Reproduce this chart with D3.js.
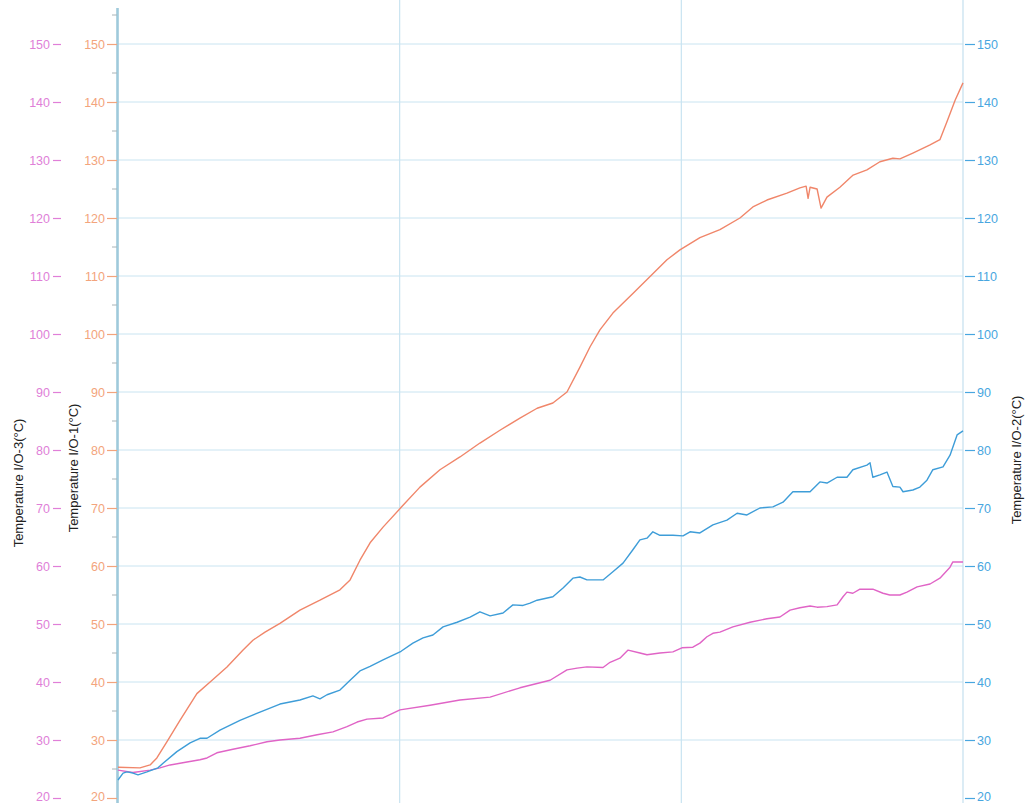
<!DOCTYPE html>
<html>
<head>
<meta charset="utf-8">
<script src="https://cdn.jsdelivr.net/npm/d3@7"></script>
<style>
  html, body { margin: 0; padding: 0; background: #ffffff; }
  svg { display: block; }
  text { font-family: "Liberation Sans", Arial, sans-serif; }
</style>
</head>
<body>
<svg id="chart" width="1026" height="803"></svg>
<script>
// Tick values shared by the three temperature axes
const tickValues = [20, 30, 40, 50, 60, 70, 80, 90, 100, 110, 120, 130, 140, 150];
const minorTickValues = [25, 35, 45, 55, 65, 75, 85, 95, 105, 115, 125, 135, 145, 155];

// Axis titles
const titleIO1 = "Temperature I/O-1(\u00B0C)";
const titleIO2 = "Temperature I/O-2(\u00B0C)";
const titleIO3 = "Temperature I/O-3(\u00B0C)";

// I/O-1 readings (time, °C)
const io1Time = [0, 7.8, 11.4, 13.8, 17.4, 22.0, 28.0, 32.7, 38.7, 44.4, 47.9, 52.2, 57.5, 64.6, 71.7, 78.8,
  82.4, 85.9, 89.5, 94.1, 100.7, 107.2, 114.3, 121.4, 128.5, 135.6, 142.7, 148.8, 154.4, 159.4, 164.0,
  167.6, 171.1, 175.7, 182.8, 188.9, 194.9, 199.5, 206.6, 213.7, 220.8, 225.4, 230.4, 237.5, 242.1,
  244.3, 245.0, 245.7, 248.2, 249.6, 251.7, 256.3, 261.0, 265.9, 270.5, 275.1, 277.6, 282.2, 288.3,
  291.8, 294.3, 297.2, 300];
const io1Temp = [25.3, 25.2, 25.7, 26.9, 29.7, 33.4, 38.0, 40.0, 42.6, 45.5, 47.2, 48.6, 50.1, 52.4, 54.1, 55.9,
  57.6, 61.0, 64.0, 66.7, 70.2, 73.6, 76.6, 78.8, 81.2, 83.4, 85.5, 87.2, 88.1, 90.0, 94.3,
  97.8, 100.7, 103.6, 107.0, 109.9, 112.8, 114.5, 116.6, 118.0, 120.0, 121.9, 123.1, 124.3, 125.2,
  125.5, 123.4, 125.3, 125.0, 121.7, 123.6, 125.3, 127.4, 128.3, 129.7, 130.3, 130.2, 131.2, 132.6,
  133.5, 136.6, 140.3, 143.3];

// I/O-2 readings (time, °C)
const io2Time = [0, 1.8, 3.2, 5.3, 7.1, 10.3, 14.2, 16.0, 20.9, 25.6, 29.1, 31.6, 36.2, 43.3, 50.4, 57.5,
  64.6, 69.2, 71.7, 74.2, 78.8, 82.4, 85.9, 89.5, 94.1, 100.5, 104.7, 108.3, 111.8, 115.4, 120.4,
  125.0, 128.5, 132.1, 136.7, 140.2, 143.8, 146.3, 148.8, 154.4, 158.0, 161.5, 164.0, 166.5, 172.2,
  175.7, 179.3, 182.8, 185.3, 187.8, 189.9, 192.4, 197.0, 200.6, 203.1, 206.6, 211.2, 216.2, 219.8,
  223.3, 227.9, 232.5, 236.1, 239.6, 245.7, 249.2, 251.7, 255.3, 258.8, 260.9, 265.9, 267.0, 268.0,
  270.5, 273.0, 275.1, 277.6, 278.7, 282.2, 284.7, 287.2, 289.3, 292.9, 295.4, 297.9, 300];
const io2Temp = [23.1, 24.3, 24.5, 24.3, 24.0, 24.5, 25.2, 26.0, 28.0, 29.5, 30.3, 30.3, 31.7, 33.4, 34.8, 36.2,
  36.9, 37.6, 37.1, 37.8, 38.6, 40.3, 41.9, 42.7, 43.8, 45.3, 46.7, 47.6, 48.1, 49.5, 50.3,
  51.2, 52.1, 51.4, 51.9, 53.3, 53.2, 53.6, 54.1, 54.7, 56.2, 57.9, 58.1, 57.6, 57.6,
  59.0, 60.5, 62.8, 64.5, 64.8, 65.9, 65.3, 65.3, 65.2, 65.9, 65.7, 67.1, 67.9, 69.1,
  68.8, 70.0, 70.2, 71.0, 72.8, 72.8, 74.5, 74.3, 75.3, 75.3, 76.6, 77.4, 77.8, 75.3,
  75.7, 76.2, 73.7, 73.6, 72.8, 73.1, 73.6, 74.8, 76.6, 77.1, 79.1, 82.6, 83.3];

// I/O-3 readings (time, °C)
const io3Time = [0, 5.3, 11.4, 14.9, 18.5, 24.5, 29.1, 31.6, 35.1, 40.8, 46.9, 52.9, 57.5, 64.6, 70.7, 76.3,
  81.3, 84.9, 88.4, 94.1, 100.1, 110.8, 121.4, 132.1, 142.7, 153.4, 159.4, 163.0, 166.5, 172.2,
  174.7, 178.2, 181.1, 185.3, 187.8, 192.4, 197.0, 200.2, 204.1, 206.6, 209.1, 211.2, 213.7, 218.3,
  224.4, 230.4, 235.0, 238.6, 242.1, 245.7, 248.2, 251.7, 255.3, 257.4, 258.8, 260.9, 263.4, 268.0,
  271.6, 274.0, 277.6, 280.1, 283.7, 288.3, 291.8, 295.4, 296.4, 300];
const io3Temp = [24.8, 24.4, 24.8, 25.2, 25.7, 26.2, 26.6, 26.9, 27.8, 28.4, 29.0, 29.7, 30.0, 30.3, 30.9, 31.4,
  32.3, 33.1, 33.6, 33.8, 35.2, 36.0, 36.9, 37.4, 39.0, 40.3, 42.1, 42.4, 42.6, 42.5,
  43.4, 44.1, 45.5, 45.0, 44.7, 45.0, 45.2, 45.9, 46.0, 46.7, 47.8, 48.4, 48.6, 49.5,
  50.3, 50.9, 51.2, 52.4, 52.8, 53.1, 52.9, 53.0, 53.3, 54.7, 55.5, 55.3, 56.0, 56.0,
  55.3, 55.0, 55.0, 55.5, 56.4, 56.9, 57.9, 59.8, 60.7, 60.7];

const colors = {
  io1Line: "#f0866a", io1Text: "#f3a47c",
  io2Line: "#3e9dd8", io2Text: "#48a6e0",
  io3Line: "#e064c6", io3Text: "#e07fd8",
  grid: "#c9e4f1", axis: "#9fcadb", minor: "#a8b4b8"
};

const svg = d3.select("#chart");
const W = 1026, H = 803;
const plotLeft = 118, plotRight = 963;

const x = d3.scaleLinear().domain([0, 300]).range([plotLeft, plotRight]);
const y1 = d3.scaleLinear().domain([20, 150]).range([798, 44]);   // I/O-1, inner left
const y2 = d3.scaleLinear().domain([20, 150]).range([798, 44]);   // I/O-2, right
const y3 = d3.scaleLinear().domain([20, 150]).range([798, 44]);   // I/O-3, outer left

// Horizontal grid
svg.append("g").selectAll("line")
  .data(tickValues.filter(v => v > 20))
  .join("line")
  .attr("x1", plotLeft).attr("x2", plotRight)
  .attr("y1", d => y1(d)).attr("y2", d => y1(d))
  .attr("stroke", colors.grid).attr("stroke-width", 1);

// Vertical grid
svg.append("g").selectAll("line")
  .data([100, 200])
  .join("line")
  .attr("x1", d => x(d)).attr("x2", d => x(d))
  .attr("y1", 0).attr("y2", H)
  .attr("stroke", colors.grid).attr("stroke-width", 1.2);

// Right axis line
svg.append("line")
  .attr("x1", plotRight).attr("x2", plotRight).attr("y1", 0).attr("y2", H)
  .attr("stroke", "#c4dfee").attr("stroke-width", 1.2);

// Left axis line
svg.append("line")
  .attr("x1", plotLeft - 0.5).attr("x2", plotLeft - 0.5).attr("y1", y1(156.2)).attr("y2", H)
  .attr("stroke", colors.axis).attr("stroke-width", 2.6);

// Minor ticks on the left axis
svg.append("g").selectAll("line")
  .data(minorTickValues)
  .join("line")
  .attr("x1", plotLeft - 6).attr("x2", plotLeft - 1)
  .attr("y1", d => y1(d)).attr("y2", d => y1(d))
  .attr("stroke", colors.minor).attr("stroke-width", 1);

function styleAxis(g, color) {
  g.select(".domain").remove();
  g.selectAll(".tick line").attr("stroke", color).attr("stroke-width", 1.2);
  g.selectAll(".tick text").attr("fill", color)
    .attr("font-size", 12.5)
    .attr("font-family", "'Liberation Sans', Arial, sans-serif");
  // keep the lowest label inside the bottom edge
  g.selectAll(".tick").filter(d => d === 20).select("text").attr("y", -2);
}

// I/O-1 axis (inner left)
svg.append("g")
  .attr("transform", `translate(${plotLeft - 1},0)`)
  .call(d3.axisLeft(y1).tickValues(tickValues).tickSize(10).tickPadding(2).tickFormat(d3.format("d")))
  .call(g => styleAxis(g, colors.io1Text));

// I/O-3 axis (outer left)
svg.append("g")
  .attr("transform", `translate(61,0)`)
  .call(d3.axisLeft(y3).tickValues(tickValues).tickSize(8).tickPadding(3).tickFormat(d3.format("d")))
  .call(g => styleAxis(g, colors.io3Text));

// I/O-2 axis (right)
svg.append("g")
  .attr("transform", `translate(${plotRight + 2},0)`)
  .call(d3.axisRight(y2).tickValues(tickValues).tickSize(10).tickPadding(2).tickFormat(d3.format("d")))
  .call(g => styleAxis(g, colors.io2Text));

// Axis titles
function title(xPos, yPos, text) {
  svg.append("text")
    .attr("transform", `translate(${xPos},${yPos}) rotate(-90)`)
    .attr("text-anchor", "middle")
    .attr("font-size", 13)
    .attr("fill", "#222")
    .text(text);
}
title(23, 483, titleIO3);
title(78, 468, titleIO1);
title(1021, 460, titleIO2);

// Series
const line = (yScale) => d3.line()
  .x(d => x(d[0]))
  .y(d => yScale(d[1]));

const series = [
  { t: io3Time, v: io3Temp, y: y3, color: colors.io3Line },
  { t: io2Time, v: io2Temp, y: y2, color: colors.io2Line },
  { t: io1Time, v: io1Temp, y: y1, color: colors.io1Line }
];

series.forEach(s => {
  const pts = s.t.map((t, i) => [t, s.v[i]]);
  svg.append("path")
    .datum(pts)
    .attr("d", line(s.y))
    .attr("fill", "none")
    .attr("stroke", s.color)
    .attr("stroke-width", 1.4)
    .attr("stroke-linejoin", "round");
});
</script>
</body>
</html>
